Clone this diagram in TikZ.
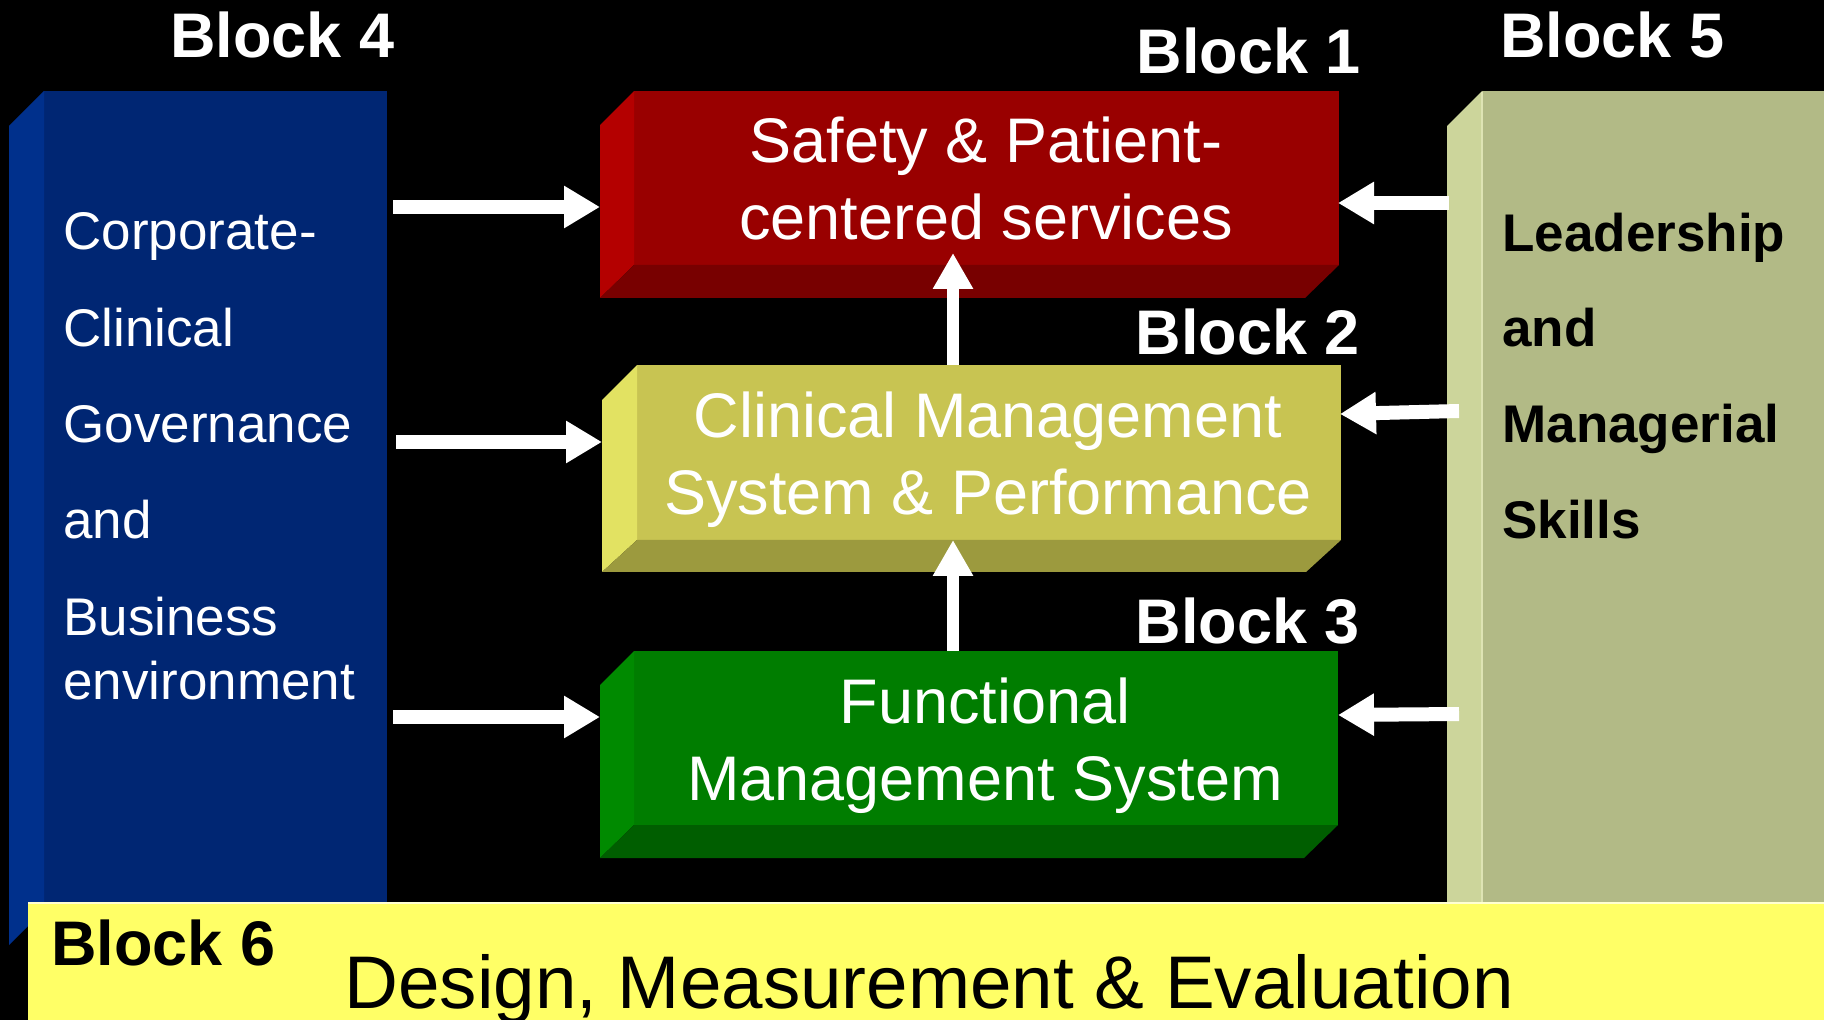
\documentclass[tikz,border=0pt]{standalone}
\usepackage{fontspec}
\setmainfont{Liberation Sans}
\usetikzlibrary{arrows.meta}
\definecolor{bluefront}{RGB}{0,38,115}
\definecolor{blueside}{RGB}{0,48,140}
\definecolor{olfront}{RGB}{178,186,134}
\definecolor{olside}{RGB}{204,213,155}
\definecolor{olline}{RGB}{222,228,180}
\definecolor{band}{RGB}{255,255,102}
\definecolor{redfront}{RGB}{153,0,0}
\definecolor{redside}{RGB}{180,0,0}
\definecolor{redbot}{RGB}{120,0,0}
\definecolor{yfront}{RGB}{200,196,82}
\definecolor{yside}{RGB}{226,226,98}
\definecolor{ybot}{RGB}{156,154,62}
\definecolor{gfront}{RGB}{0,125,0}
\definecolor{gside}{RGB}{0,138,0}
\definecolor{gbot}{RGB}{0,94,0}
\tikzset{
  blocklabel/.style={inner sep=0pt, text=white, font=\fontsize{31.5pt}{36pt}\selectfont\bfseries},
  inner/.style={inner sep=0pt, text=white, font=\fontsize{31.5pt}{36pt}\selectfont, anchor=base},
  sidetext/.style={inner sep=0pt, text=white, font=\fontsize{26.5pt}{30pt}\selectfont, anchor=base west},
  rightside/.style={inner sep=0pt, text=black, font=\fontsize{26.5pt}{30pt}\selectfont\bfseries, anchor=base west},
  arr/.style={white, line width=7pt, -{Triangle[length=18pt,width=20pt]}},
  varr/.style={white, line width=6pt, -{Triangle[length=18pt,width=19pt]}}
}
\begin{document}
\begin{tikzpicture}[x=0.5pt,y=-0.5pt]
\useasboundingbox (0,0) rectangle (1824,1020);
\fill[black] (0,0) rectangle (1824,1020);

% Block 4 (blue column)
\fill[bluefront] (44,91) rectangle (387,920);
\fill[blueside] (9,126) -- (44,91) -- (44,910) -- (9,945) -- cycle;

% Block 5 (olive column)
\fill[olfront] (1482,91) rectangle (1824,920);
\fill[olside] (1447,126) -- (1482,91) -- (1482,920) -- (1447,920) -- cycle;
\draw[olline, line width=1pt] (1482,92) -- (1482,903);

% Block 6 band
\fill[band] (28,903) rectangle (1824,1020);
\draw[white!70!band, line width=1pt] (28,903) -- (1824,903);

% Block 1 (red)
\fill[redfront] (634,91) rectangle (1339,265);
\fill[redside] (634,91) -- (600,125) -- (600,298) -- (634,265) -- cycle;
\fill[redbot] (634,265) -- (600,298) -- (1305,298) -- (1339,265) -- cycle;

% Block 2 (yellow-olive)
\fill[yfront] (637,365) rectangle (1341,540);
\fill[yside] (637,365) -- (602,400) -- (602,572) -- (637,540) -- cycle;
\fill[ybot] (637,540) -- (602,572) -- (1306,572) -- (1341,540) -- cycle;

% Block 3 (green)
\fill[gfront] (634,651) rectangle (1338,825);
\fill[gside] (634,651) -- (600,685) -- (600,858) -- (634,825) -- cycle;
\fill[gbot] (634,825) -- (600,858) -- (1304,858) -- (1338,825) -- cycle;

% arrow end points
\coordinate (a1s) at (393,207); \coordinate (a1e) at (600,207);
\coordinate (a2s) at (396,442); \coordinate (a2e) at (602,442);
\coordinate (a3s) at (393,717); \coordinate (a3e) at (600,717);
\coordinate (r1s) at (1449,203); \coordinate (r1e) at (1338,203);
\coordinate (r2s) at (1459,411); \coordinate (r2e) at (1340,414);
\coordinate (r3s) at (1459,714); \coordinate (r3e) at (1338,715);
\coordinate (v1s) at (953,365); \coordinate (v1e) at (953,253);
\coordinate (v2s) at (953,651); \coordinate (v2e) at (953,540);

\draw[arr] (a1s) -- (a1e);
\draw[arr] (a2s) -- (a2e);
\draw[arr] (a3s) -- (a3e);
\draw[arr] (r1s) -- (r1e);
\draw[arr] (r2s) -- (r2e);
\draw[arr] (r3s) -- (r3e);
\draw[varr] (v1s) -- (v1e);
\draw[varr] (v2s) -- (v2e);

% Block labels
\node[blocklabel, anchor=base west] (l4) at (170,58) {Block 4};
\node[blocklabel, anchor=base west] (l5) at (1500,58) {Block 5};
\node[blocklabel, anchor=base east] (l1) at (1361,74) {Block 1};
\node[blocklabel, anchor=base east] (l2) at (1360,355) {Block 2};
\node[blocklabel, anchor=base east] (l3) at (1360,643) {Block 3};
\node[blocklabel, anchor=base west, text=black] (l6) at (51,965) {Block 6};

% Block texts
\node[inner] (t1a) at (986,163) {Safety \& Patient-};
\node[inner] (t1b) at (986,240) {centered services};
\node[inner] (t2a) at (988,438) {Clinical Management};
\node[inner] (t2b) at (988,515) {System \& Performance};
\node[inner] (t3a) at (985,723) {Functional};
\node[inner] (t3b) at (985,800) {Management System};

\node[sidetext] (c1) at (63,250) {Corporate-};
\node[sidetext] (c2) at (63,347) {Clinical};
\node[sidetext] (c3) at (63,443) {Governance};
\node[sidetext] (c4) at (63,539) {and};
\node[sidetext] (c5) at (63,635) {Business};
\node[sidetext] (c6) at (63,699) {environment};

\node[rightside] (s1) at (1502,252) {Leadership};
\node[rightside] (s2) at (1502,347) {and};
\node[rightside] (s3) at (1502,443) {Managerial};
\node[rightside] (s4) at (1502,539) {Skills};

\node[inner sep=0pt, anchor=base west, font=\fontsize{37.3pt}{42pt}\selectfont] (t6) at (344,1008) {Design, Measurement \& Evaluation};
\end{tikzpicture}
\end{document}
